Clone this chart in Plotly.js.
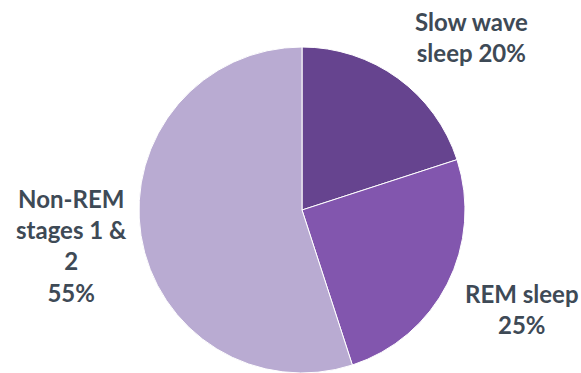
<!DOCTYPE html>
<html><head><meta charset="utf-8">
<script src="https://cdn.plot.ly/plotly-3.0.1.min.js"></script>
<style>html,body{margin:0;padding:0;background:#fff}#chart{width:581px;height:373px}</style>
</head><body><div id="chart"></div>
<script>
const labels = ["Slow wave sleep", "REM sleep", "Non-REM stages 1 & 2"];
const values = [20, 25, 55];
const labelTexts = ["Slow wave<br>sleep 20%", "REM sleep<br>25%", "Non-REM<br>stages 1 &<br>2<br>55%"];
const colors = ["#66448F", "#8256AE", "#B9ABD2"];

const W = 581, H = 373;
const cx = 302, cy = 210, r = 163;
const trace = {
  type: "pie", labels: labels, values: values, sort: false, direction: "clockwise", rotation: 0,
  marker: {colors: colors, line: {color: "#ffffff", width: 1}},
  textinfo: "none", hoverinfo: "label+percent", showlegend: false,
  domain: {x: [(cx - r) / W, (cx + r) / W], y: [(H - cy - r) / H, (H - cy + r) / H]}
};
const pos = [[471, 37], [522, 309], [71, 245]];
const annotations = labelTexts.map((t, i) => ({
  text: "<b>" + t + "</b>", x: pos[i][0] / W, y: 1 - pos[i][1] / H, xref: "paper", yref: "paper",
  showarrow: false, align: "center", xanchor: "center", yanchor: "middle",
  font: {family: "Lato, sans-serif", size: 24, color: "#3E4A56"}
}));
Plotly.newPlot("chart", [trace], {
  width: W, height: H, margin: {l: 0, r: 0, t: 0, b: 0},
  paper_bgcolor: "#fff", annotations: annotations
}, {displayModeBar: false, staticPlot: true});
</script></body></html>
